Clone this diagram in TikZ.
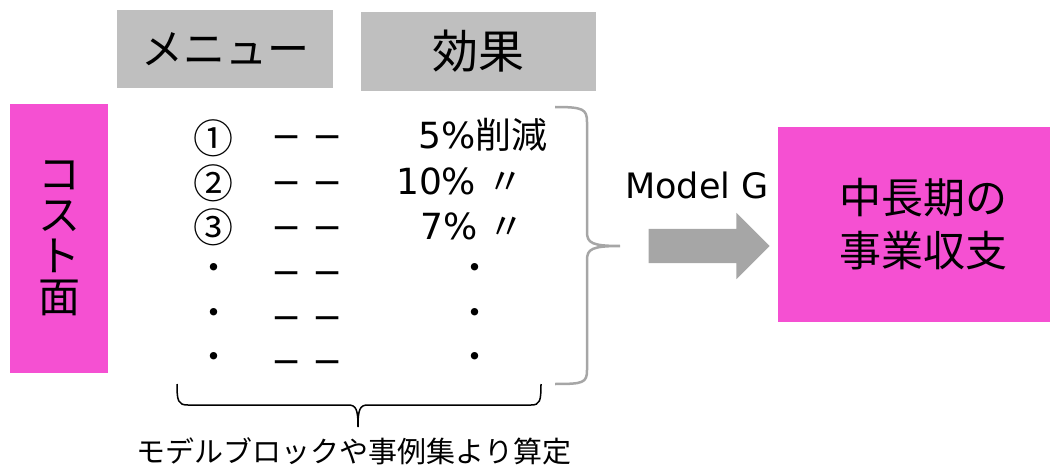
\documentclass[tikz,border=0pt]{standalone}
\usepackage{fontspec}
\setmainfont{DejaVu Sans}
\newfontfamily\jp{Noto Sans CJK JP}
\usetikzlibrary{shapes.arrows}
\definecolor{costpink}{RGB}{245,80,210}
\definecolor{headgray}{RGB}{191,191,191}
\definecolor{arrowgray}{RGB}{166,166,166}

\begin{document}
\begin{tikzpicture}[x=1pt,y=-1pt,
    head/.style={fill=headgray,inner sep=0pt,font=\fontsize{42}{46}\selectfont\jp},
    pinkbox/.style={fill=costpink,inner sep=0pt,align=center},
    row/.style={inner sep=0pt,anchor=base,font=\fontsize{36}{38}\selectfont},
    num/.style={inner sep=0pt,font=\fontsize{40}{42}\selectfont\jp},
    dot/.style={inner sep=0pt,font=\fontsize{35}{38}\selectfont\jp},
    bigarrow/.style={single arrow,fill=arrowgray,minimum height=121pt,
      inner xsep=0pt,inner ysep=17pt,single arrow head extend=16pt}]
  \useasboundingbox (0,0) rectangle (1050,468);

  % column heads
  \node[head,minimum width=216pt,minimum height=78pt] (menu) at (225,49) {メニュー};
  \node[head,minimum width=235pt,minimum height=79pt,
    font=\fontsize{46}{50}\selectfont\jp] (effect) at (478.5,51.5) {効果};

  % the two pink boxes
  \node[pinkbox,minimum width=98pt,minimum height=269pt,
    font=\fontsize{42}{41}\selectfont\jp] (cost) at (59,238.5) {コ\\ス\\ト\\面};
  \node[pinkbox,minimum width=290pt,minimum height=195pt,
    font=\fontsize{42}{53}\selectfont\jp] (result) at (923,224.5) {中長期の\\事業収支};

  % menu rows
  \node[num] (n1) at (213,138) {①};
  \node[num] (n2) at (213,183) {②};
  \node[num] (n3) at (213,227) {③};
  \node[dot] (n4) at (214,272) {・};
  \node[dot] (n5) at (214,317) {・};
  \node[dot] (n6) at (214,361) {・};

  \node[row] (m1) at (307,149) {− −};
  \node[row] (m2) at (307,194) {− −};
  \node[row] (m3) at (307,239) {− −};
  \node[row] (m4) at (307,284) {− −};
  \node[row] (m5) at (307,329) {− −};
  \node[row] (m6) at (307,373) {− −};

  \node[row,anchor=base west] (e1) at (418,149) {5\%{\jp 削減}};
  \node[row,anchor=base west] (e2) at (396,194) {10\% {\jp 〃}};
  \node[row,anchor=base west] (e3) at (420,239) {7\% {\jp 〃}};
  \node[dot] (e4) at (475,272) {・};
  \node[dot] (e5) at (475,317) {・};
  \node[dot] (e6) at (475,361) {・};

  % gray brace, arrow and model label
  \draw[arrowgray,line width=2.5pt] (555,107) .. controls (583,107) and (587,109) .. (587,122)
    -- (587,232) .. controls (587,243) and (592,246) .. (620,246)
    .. controls (592,246) and (587,249) .. (587,260)
    -- (587,370) .. controls (587,383) and (583,384) .. (555,384);
  \node[bigarrow] (arrow) at (700.5,246) {};
  \node[inner sep=0pt,anchor=base,font=\fontsize{35}{38}\selectfont] (model) at (697,199) {Model G};

  % bottom brace and note
  \draw[line width=1.5pt] (177,384) .. controls (177,401) and (178,405) .. (188,405)
    -- (348,405) .. controls (356,405) and (358,409) .. (358,427)
    .. controls (358,409) and (360,405) .. (368,405)
    -- (531,405) .. controls (540,405) and (541,401) .. (541,384);
  \node[inner sep=0pt,font=\fontsize{29}{32}\selectfont\jp] (note) at (354,451) {モデルブロックや事例集より算定};
\end{tikzpicture}
\end{document}
